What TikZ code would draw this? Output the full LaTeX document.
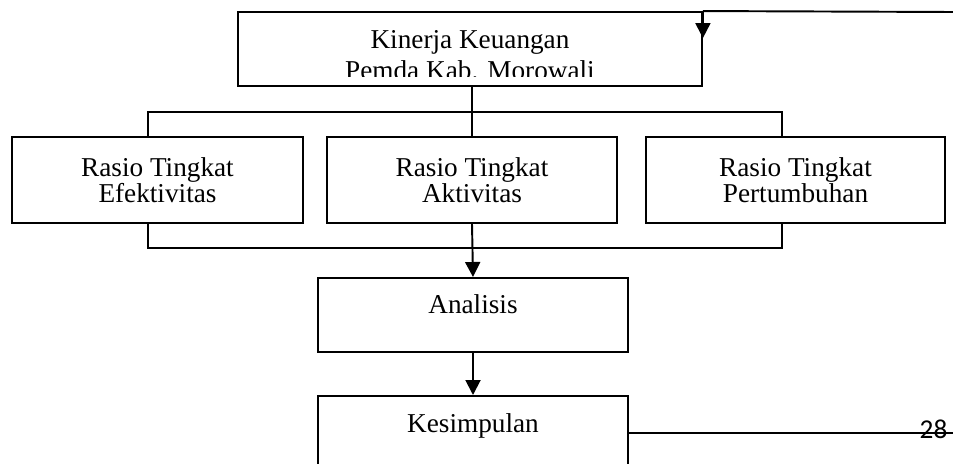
\documentclass[tikz,border=0pt]{standalone}
\usepackage{fontspec}
\setmainfont{Liberation Serif}
\newfontfamily\pagefont{Carlito}
\usetikzlibrary{positioning, arrows.meta, calc}

\begin{document}
\begin{tikzpicture}[x=0.02cm, y=-0.02cm, line width=1.1pt,
    box/.style={draw, inner sep=0pt, align=center, font=\fontsize{15.5pt}{14.8pt}\selectfont},
    txt/.style={inner sep=0pt, anchor=base, font=\fontsize{15.5pt}{14.8pt}\selectfont},
    arr/.style={-{Triangle[width=0.3cm, length=0.3cm]}}]
      \useasboundingbox (0,0) rectangle (953,463);
      \clip (0,0) rectangle (953,463);

      % Top box
      \node[box, minimum width=9.28cm, minimum height=1.48cm] (kin) at (470,49) {};
      \begin{scope}
        \clip (238,12) rectangle (702,76);
        \node[txt] (kin1) at (470,49) {Kinerja Keuangan};
        \node[txt] (kin2) at (470,79) {Pemda Kab. Morowali};
      \end{scope}
      \coordinate (in) at (953,12);
      \draw (in) -- (kin.north east);
      \draw[arr] (kin.north east) -- ++(0,27);

      % Ratio boxes
      \node[box, minimum width=5.82cm, minimum height=1.72cm] (efk) at (157.5,180) {Rasio Tingkat\\Efektivitas};
      \node[box, minimum width=5.8cm, minimum height=1.72cm] (akt) at (472,180) {Rasio Tingkat\\Aktivitas};
      \node[box, minimum width=5.98cm, minimum height=1.72cm] (ptb) at (795.5,180) {Rasio Tingkat\\Pertumbuhan};

      % Branch lines
      \coordinate (bl) at (148,112);
      \coordinate (br) at (782,112);
      \draw (akt.north |- kin.south) -- (akt.north |- bl);
      \draw (bl |- efk.north) -- (bl) -- (br) -- (br |- ptb.north);
      \draw (akt.north) -- (akt.north |- bl);

      % Merge lines
      \coordinate (ml) at (148,248);
      \coordinate (mr) at (782,248);
      \draw (ml |- efk.south) -- (ml) -- (mr) -- (mr |- ptb.south);

      % Analysis and conclusion
      \node[box, anchor=north, minimum width=6.2cm, text height=0.72cm, text depth=0.76cm] (ana) at (473,277) {Analisis};
      \node[box, anchor=north, minimum width=6.2cm, text height=0.74cm, text depth=2cm] (kes) at (473,395) {Kesimpulan};
      \draw[arr] (akt.south) -- (ana.north);
      \draw[arr] (ana.south) -- (kes.north);

      % Page number
      \node[inner sep=0pt, anchor=base, font=\pagefont\fontsize{15.5pt}{16pt}\selectfont] (pg) at (933.5,438) {28};
      \coordinate (out) at (953,433);
      \draw (out -| kes.east) -- (out);
    \end{tikzpicture}
\end{document}
